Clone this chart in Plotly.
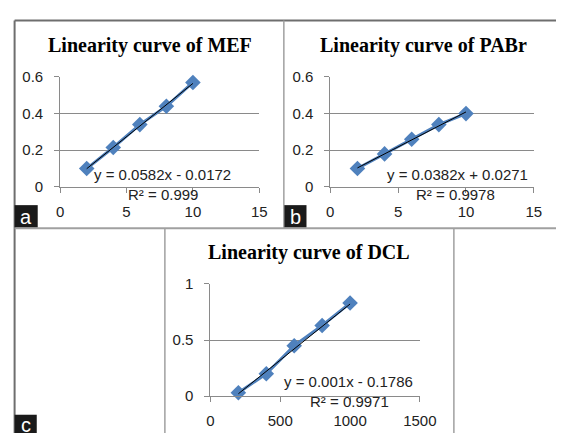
import plotly.graph_objects as go

W, H = 573, 441

# ---- data ----
conc_a = [2, 4, 6, 8, 10]
abs_a = [0.10, 0.215, 0.34, 0.44, 0.57]
fit_a = (0.0582, -0.0172)
eq_a = "y = 0.0582x - 0.0172"
r2_a = "R² = 0.999"

conc_b = [2, 4, 6, 8, 10]
abs_b = [0.10, 0.18, 0.26, 0.34, 0.40]
fit_b = (0.0382, 0.0271)
eq_b = "y = 0.0382x + 0.0271"
r2_b = "R² = 0.9978"

conc_c = [200, 400, 600, 800, 1000]
abs_c = [0.03, 0.20, 0.45, 0.63, 0.83]
fit_c = (0.001, -0.1786)
eq_c = "y = 0.001x - 0.1786"
r2_c = "R² = 0.9971"

titles = ["Linearity curve of MEF", "Linearity curve of PABr", "Linearity curve of DCL"]
panel_labels = ["a", "b", "c"]

xticks_ab = [0, 5, 10, 15]
yticks_ab = [0, 0.2, 0.4, 0.6]
yticklabels_ab = ["0", "0.2", "0.4", "0.6"]
xticks_c = [0, 500, 1000, 1500]
yticks_c = [0, 0.5, 1]
yticklabels_c = ["0", "0.5", "1"]

BLUE = "#4F81BD"
GRID = "#8a8a8a"
TICKFONT = dict(family="Liberation Sans", size=15, color="#222")


def px(x):
    return x / W


def py(y):
    return 1 - y / H


fig = go.Figure()

panels = [
    (conc_a, abs_a, fit_a, "x", "y"),
    (conc_b, abs_b, fit_b, "x2", "y2"),
    (conc_c, abs_c, fit_c, "x3", "y3"),
]
for xs, ys, (m, b), xa, ya in panels:
    fig.add_trace(go.Scatter(x=xs, y=ys, mode="lines+markers", xaxis=xa, yaxis=ya,
                             line=dict(color=BLUE, width=3),
                             marker=dict(symbol="diamond", size=12, color=BLUE),
                             showlegend=False, cliponaxis=False))
    xt = [xs[0], xs[-1]]
    fig.add_trace(go.Scatter(x=xt, y=[m * v + b for v in xt], mode="lines", xaxis=xa, yaxis=ya,
                             line=dict(color="black", width=1), showlegend=False,
                             cliponaxis=False))


def xaxis(domain, rng, ticks, anchor):
    return dict(domain=domain, range=rng, tickvals=ticks, showgrid=False, zeroline=False,
                showline=True, linecolor=GRID, linewidth=1, ticks="outside", ticklen=5,
                tickcolor=GRID, tickfont=TICKFONT, anchor=anchor, fixedrange=True,
                ticklabelstandoff=6)


def yaxis(domain, rng, ticks, labels, anchor):
    return dict(domain=domain, range=rng, tickvals=ticks, ticktext=labels, showgrid=True,
                gridcolor=GRID, gridwidth=1, zeroline=False, showline=True, linecolor=GRID,
                linewidth=1, ticks="outside", ticklen=5, tickcolor=GRID, tickfont=TICKFONT,
                anchor=anchor, fixedrange=True, ticklabelstandoff=8)


ydom_ab = [py(185), py(70.7)]
fig.update_layout(
    xaxis=xaxis([px(58.3), px(265)], [0, 15], xticks_ab, "y"),
    yaxis=yaxis(ydom_ab, [0, 0.6], yticks_ab, yticklabels_ab, "x"),
    xaxis2=xaxis([px(338.7), px(550)], [0, 15], xticks_ab, "y2"),
    yaxis2=yaxis(ydom_ab, [0, 0.6], yticks_ab, yticklabels_ab, "x2"),
    xaxis3=xaxis([px(214.3), px(431.7)], [0, 1500], xticks_c, "y3"),
    yaxis3=yaxis([py(402.7), py(286)], [0, 1], yticks_c, yticklabels_c, "x3"),
    width=W, height=H, margin=dict(l=0, r=0, t=0, b=0),
    paper_bgcolor="white", plot_bgcolor="white",
)

ann = []
title_pos = [(152, 38), (435, 38), (317, 253)]
for t, (x, y) in zip(titles, title_pos):
    ann.append(dict(text=f"<b>{t}</b>", x=px(x), y=py(y), xref="paper", yref="paper",
                    showarrow=False, xanchor="center", yanchor="middle",
                    font=dict(family="Liberation Serif", size=20, color="black")))

eq_pos = [(eq_a, 91, 172), (r2_a, 127, 193), (eq_b, 395, 172), (r2_b, 426, 193),
          (eq_c, 289, 387), (r2_c, 316, 408)]
for t, x, y in eq_pos:
    ann.append(dict(text=t, x=px(x), y=py(y), xref="paper", yref="paper", showarrow=False,
                    xanchor="left", yanchor="middle", font=TICKFONT))

shapes = []
FRAME = "#6e6e6e"
DIV = "#a0a0a0"
# outer frame
shapes.append(dict(type="line", x0=px(11), x1=1, y0=py(12), y1=py(12), xref="paper", yref="paper",
                   line=dict(color=FRAME, width=2)))
shapes.append(dict(type="line", x0=px(11), x1=px(11), y0=py(12), y1=0, xref="paper", yref="paper",
                   line=dict(color=FRAME, width=2)))
shapes.append(dict(type="line", x0=px(11), x1=1, y0=py(228), y1=py(228), xref="paper", yref="paper",
                   line=dict(color=DIV, width=2)))
shapes.append(dict(type="line", x0=px(290.5), x1=px(290.5), y0=py(12), y1=py(228), xref="paper",
                   yref="paper", line=dict(color=DIV, width=1.5)))
shapes.append(dict(type="line", x0=px(167), x1=px(167), y0=py(228), y1=0, xref="paper",
                   yref="paper", line=dict(color=DIV, width=1.5)))
shapes.append(dict(type="line", x0=px(467), x1=px(467), y0=py(228), y1=0, xref="paper",
                   yref="paper", line=dict(color=DIV, width=1.5)))

label_boxes = [(11, 204, 35, 227), (291, 204, 314, 227), (11, 422, 34, 441)]
for lab, (x0, y0, x1, y1) in zip(panel_labels, label_boxes):
    shapes.append(dict(type="rect", x0=px(x0), x1=px(x1), y0=py(y1), y1=py(y0), xref="paper",
                       yref="paper", fillcolor="#1a1a1a", line=dict(width=0)))
    ann.append(dict(text=lab, x=px((x0 + x1) / 2), y=py((y0 + y1) / 2 + 1), xref="paper",
                    yref="paper", showarrow=False, xanchor="center", yanchor="middle",
                    font=dict(family="Liberation Sans", size=20, color="white")))

fig.update_layout(annotations=ann, shapes=shapes)
fig.write_html("out.html")
